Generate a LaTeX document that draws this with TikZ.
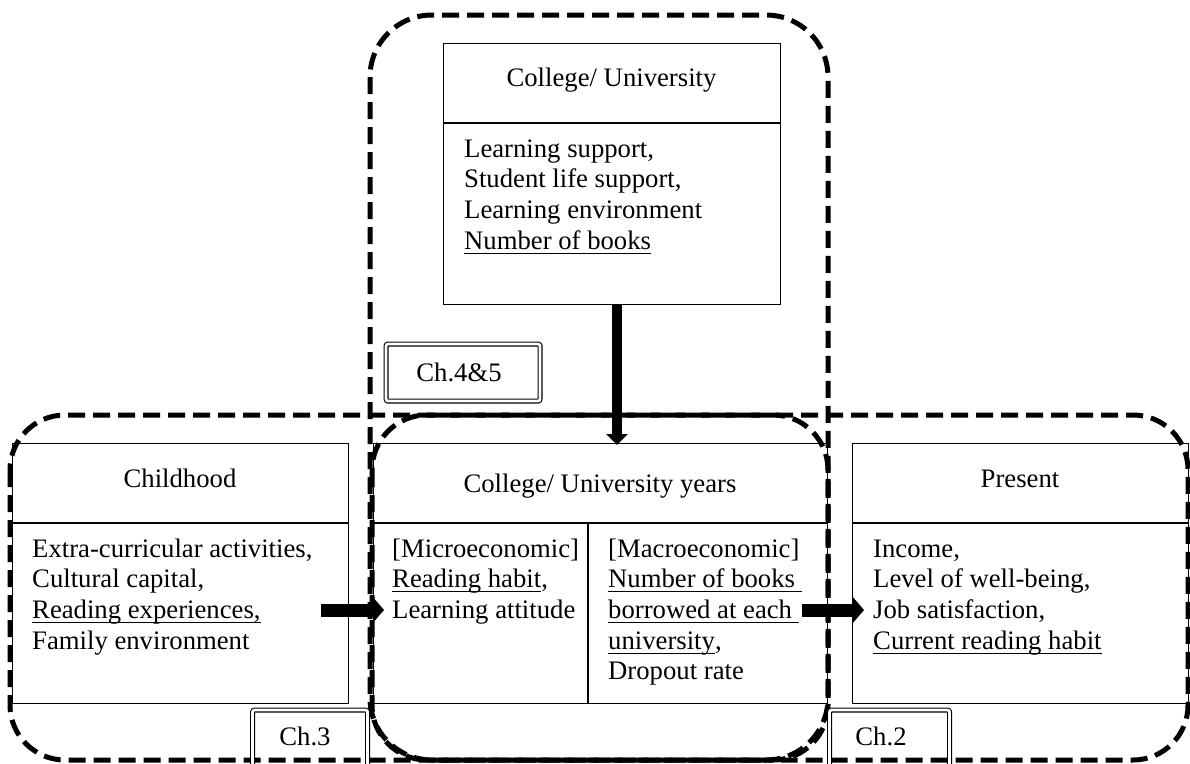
\documentclass[tikz,border=0pt]{standalone}
\usepackage{fontspec}
\setmainfont{Liberation Serif}
\usetikzlibrary{arrows.meta}
\newcommand\mylines[1]{\begin{tabular}[t]{@{}l@{}}#1\end{tabular}}
\newcommand\myul[1]{\setbox0\hbox{#1}\rlap{\rule[-4.5pt]{\wd0}{1pt}}\box0}
\begin{document}
\begin{tikzpicture}[x=1pt,y=-1pt,
  dashbox/.style={line width=5pt, dash pattern=on 17pt off 8pt},
  panel/.style={draw, line width=1.1pt, rectangle, inner sep=0pt, anchor=north west},
  txt/.style={inner sep=0pt, anchor=base west, font=\fontsize{26.7}{30.7}\selectfont},
  ttl/.style={inner sep=0pt, anchor=base, font=\fontsize{26.7}{30.7}\selectfont},
  chapbox/.style={draw, double, double distance=2.8pt, line width=1.1pt, rounded corners=2pt, inner sep=0pt, anchor=north west},
  blockarrow/.style={line width=13pt, -{Triangle[length=11pt,width=25pt]}},
  downarrow/.style={line width=10pt, -{Triangle[length=11pt,width=21pt]}}
]
\useasboundingbox (0,0) rectangle (1190,763);

% dashed groupings
\draw[dashbox, rounded corners=62pt] (370,15) rectangle (828,760);
\draw[dashbox, rounded corners=55pt] (10,415) rectangle (828,760);
\draw[dashbox, rounded corners=55pt] (372,415) rectangle (1188,760);

% panels
\node[panel, minimum width=337pt, minimum height=261pt] (uni) at (443,43) {};
\draw[line width=1.1pt] (uni.west |- 0,123) -- (uni.east |- 0,123);
\node[ttl] (unit) at (611.5,86) {College/ University};
\node[txt] (unib) at (464,157) {\mylines{Learning support,\\ Student life support,\\ Learning environment\\ \myul{Number of books}}};

\node[panel, minimum width=336pt, minimum height=260pt] (child) at (12,443) {};
\draw[line width=1.1pt] (child.west |- 0,523) -- (child.east |- 0,523);
\node[ttl] (childt) at (180,487) {Childhood};
\node[txt] (childb) at (32,557) {\mylines{Extra-curricular activities,\\ Cultural capital,\\ \myul{Reading experiences,}\\ Family environment}};

\node[panel, minimum width=454pt, minimum height=260pt] (cuy) at (373,443) {};
\draw[line width=1.1pt] (cuy.west |- 0,523) -- (cuy.east |- 0,523);
\draw[line width=1.1pt] (588,523) -- (cuy.south -| 588,0);
\node[ttl] (cuyt) at (600,492) {College/ University years};
\node[txt] (micro) at (392,557) {\mylines{[Microeconomic]\\ \myul{Reading habit},\\ Learning attitude}};
\node[txt] (macro) at (608,557) {\mylines{[Macroeconomic]\\ \myul{Number of books\ }\\ \myul{borrowed at each\ }\\ \myul{university},\\ Dropout rate}};

\node[panel, minimum width=336pt, minimum height=260pt] (pres) at (852,443) {};
\draw[line width=1.1pt] (pres.west |- 0,523) -- (pres.east |- 0,523);
\node[ttl] (prest) at (1020,487) {Present};
\node[txt] (presb) at (873,557) {\mylines{Income,\\ Level of well-being,\\ Job satisfaction,\\ \myul{Current reading habit}}};

% arrows
\coordinate (d1) at (617,305);
\coordinate (d2) at (617,445);
\draw[downarrow] (d1) -- (d2);
\coordinate (l1) at (321,610);
\coordinate (l2) at (384,610);
\draw[blockarrow] (l1) -- (l2);
\coordinate (r1) at (802,610);
\coordinate (r2) at (864,610);
\draw[blockarrow] (r1) -- (r2);

% chapter labels
\node[chapbox, minimum width=154pt, minimum height=57pt] (ch45box) at (385.5,343.5) {};
\node[ttl] (ch45) at (459,381) {Ch.4\&5};
\node[chapbox, minimum width=115pt, minimum height=80pt] (ch3box) at (252,709.5) {};
\node[ttl] (ch3) at (305,745) {Ch.3};
\node[chapbox, minimum width=120pt, minimum height=80pt] (ch2box) at (829,709.5) {};
\node[ttl] (ch2) at (881,745) {Ch.2};
\end{tikzpicture}
\end{document}
